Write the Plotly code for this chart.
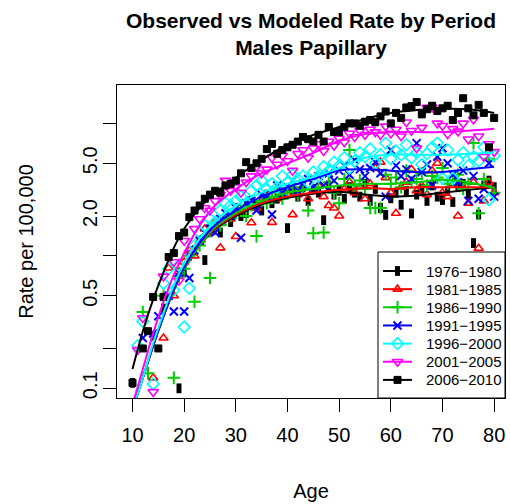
import plotly.graph_objects as go

ages = list(range(10, 81))
periods = ["1976\u22121980", "1981\u22121985", "1986\u22121990", "1991\u22121995",
           "1996\u22122000", "2001\u22122005", "2006\u22122010"]
N = None

obs_1976 = [0.11, N, N, N, 0.25, N, 0.4, N, N, 0.1,
            0.75, 1.0, 1.1, 1.3, 0.93, 1.6, 1.7, 1.5, 2.0, 1.8,
            2.3, 2.0, 2.1, 2.6, 2.4, 2.2, 2.9, 2.5, 2.7, 3.0,
            1.62, 3.1, 2.8, 3.3, 2.6, 3.2, 3.0, 1.86, 3.4, 2.9,
            3.1, 2.7, 3.3, 3.0, 2.8, 3.5, 2.6, 3.2, 2.3, 2.04,
            2.72, 3.0, 2.43, 3.1, 2.09, 2.9, 3.2, 2.6, 3.4, 2.8,
            2.64, 3.1, 2.55, 3.3, 3.5, 2.9, 1.25, 2.05, 3.4, 3.7,
            3.3]
obs_1981 = [N, N, N, N, 0.12, N, 0.24, 0.81, 0.5, 0.76,
            0.9, 1.1, 1.0, 1.3, 1.6, 1.5, 1.8, 1.15, 2.0, 1.9,
            1.4, 2.2, 2.4, 1.78, 2.3, 2.6, 2.8, 1.79, 2.7, 3.1,
            2.9, 2.05, 2.9, 3.3, 2.7, 3.1, 3.4, 2.8, 2.4, 2.3,
            2.0, 3.2, 3.6, 3.0, 3.3, 2.7, 3.5, 4.6, 5.1, 3.9,
            3.0, 2.1, 3.3, 3.6, 4.5, 3.1, 3.4, 2.9, 4.4, 5.0,
            3.0, 2.8, 3.5, 2.0, 3.3, 2.5, 3.6, 1.14, 2.6, 3.6,
            3.0]
obs_1986 = [N, N, 0.377, 0.13, N, N, 0.5, N, 0.12, 0.7,
            0.8, 1.0, 0.45, 1.2, 1.4, 0.68, 1.6, 1.7, 1.9, 2.0,
            2.1, 2.3, 2.0, 2.4, 1.41, 2.6, 2.5, 2.8, 3.0, 2.7,
            3.1, 3.3, 2.9, 3.2, 2.2, 1.48, 3.3, 1.5, 3.6, 3.0,
            2.5, 3.8, 6.3, 3.4, 3.7, 3.2, 2.3, 2.3, 2.3, 4.1,
            3.5, 3.9, 3.3, 4.4, 3.6, 3.8, 4.2, 3.4, 4.0, 3.9,
            4.6, 3.5, 3.7, 4.1, 3.2, 3.5, 7.1, 2.1, 3.8, 5.4,
            3.0]
obs_1991 = [N, N, 0.24, N, 0.26, 0.35, N, 0.5, 0.38, 0.75,
            0.38, 0.68, 1.1, 1.3, 1.5, 1.6, 1.5, 1.9, 2.1, 2.0,
            2.3, 1.37, 2.5, 2.6, 2.2, 2.9, 2.8, 2.05, 3.4, 3.0,
            3.3, 3.7, 3.1, 3.5, 3.8, 3.3, 4.0, 3.4, 4.2, 3.7,
            4.4, 4.8, 4.1, 5.3, 4.5, 4.0, 4.6, 5.1, 4.2, 2.8,
            6.3, 4.8, 4.0, 4.5, 3.8, 7.1, 4.3, 4.9, 3.4, 5.6,
            6.5, 5.0, 4.1, 3.6, 4.4, 2.6, 4.0, 2.7, 3.2, 5.0,
            2.8]
obs_1996 = [N, 0.21, 0.32, N, 0.108, N, 0.62, 0.8, 0.55, 0.85,
            0.29, 0.57, 1.2, 1.5, 1.7, 1.9, 1.8, 2.2, 2.5, 2.4,
            2.6, 2.8, 2.5, 3.1, 3.4, 3.7, 3.2, 3.5, 3.3, 4.0,
            3.6, 4.1, 3.8, 4.0, 3.6, 4.3, 4.0, 4.7, 4.4, 5.1,
            4.8, 5.5, 4.6, 5.2, 6.0, 5.6, 6.4, 5.0, 5.8, 7.1,
            5.4, 6.2, 5.8, 6.9, 5.5, 6.0, 4.9, 5.9, 6.6, 7.1,
            3.85, 6.3, 3.85, 5.3, 6.0, 4.8, 5.6, 5.2, 6.6, 2.65,
            5.7]
obs_2001 = [N, 0.195, 0.34, N, 0.094, N, 0.7, 0.5, 0.9, 0.65,
            1.3, 1.05, 1.6, 1.9, 2.3, 2.2, 2.6, 2.9, 3.7, 3.1,
            3.3, 3.0, 3.6, 4.0, 4.7, 4.2, 4.5, 5.5, 4.9, 5.7,
            5.2, 4.4, 5.9, 6.3, 5.5, 6.5, 7.0, 6.2, 7.3, 6.8,
            7.7, 7.2, 8.4, 7.9, 8.8, 8.2, 9.0, 8.6, 8.2, 9.5,
            8.4, 9.0, 8.0, 10.2, 8.8, 6.5, 9.3, 13.2, 13.2, 10.0,
            9.6, 8.3, 9.1, 8.7, 10.0, 7.6, 10.7, 8.0, 5.6, 7.0,
            6.1]
obs_2006 = [0.11, N, 0.2, 0.27, 0.49, 0.2, 0.49, 0.98, 1.05, 1.41,
            1.5, 1.96, 2.2, 2.4, 2.7, 2.9, 3.1, 3.0, 3.4, 3.5,
            3.7, 4.2, 5.1, 4.6, 5.0, 5.4, 6.4, 7.0, 5.9, 6.3,
            6.6, 6.9, 7.3, 7.9, 7.6, 7.3, 8.2, 7.3, 9.4, 8.6,
            8.6, 9.4, 10.0, 10.0, 9.6, 10.3, 10.6, 10.2, 11.3, 12.3,
            10.0, 12.0, 11.0, 13.2, 13.5, 14.5, 11.7, 12.8, 13.6, 12.4,
            13.0, 13.6, 10.6, 12.0, 15.5, 13.0, 11.5, 13.8, 12.0, 6.6,
            11.0]

fit_ages = [10, 12, 14, 16, 18, 20, 23, 26, 30, 35, 40, 45, 50, 55, 60, 65, 70, 75, 80]
fit_1976 = [0.07, 0.12, 0.21, 0.35, 0.55, 0.8, 1.2, 1.6, 2.0, 2.45, 2.75, 2.95, 3.05, 2.9, 2.8, 2.85, 3.0, 3.15, 3.3]
fit_1981 = [0.07, 0.12, 0.21, 0.35, 0.55, 0.8, 1.2, 1.62, 2.05, 2.5, 2.8, 3.0, 3.15, 3.25, 3.2, 3.3, 3.3, 3.3, 3.3]
fit_1986 = [0.07, 0.12, 0.21, 0.35, 0.55, 0.8, 1.2, 1.65, 2.1, 2.6, 3.0, 3.2, 3.4, 3.5, 3.5, 3.6, 3.75, 3.6, 3.25]
fit_1991 = [0.07, 0.12, 0.21, 0.35, 0.56, 0.82, 1.25, 1.7, 2.2, 2.8, 3.3, 3.8, 4.4, 4.5, 4.4, 4.3, 4.3, 4.5, 4.7]
fit_1996 = [0.07, 0.12, 0.22, 0.37, 0.6, 0.88, 1.35, 1.8, 2.4, 3.0, 3.5, 3.95, 4.6, 5.5, 5.8, 5.8, 5.8, 5.9, 6.0]
fit_2001 = [0.075, 0.14, 0.26, 0.45, 0.72, 1.05, 1.7, 2.4, 3.2, 4.2, 5.0, 6.0, 7.4, 8.3, 8.6, 8.6, 8.6, 8.8, 9.1]
fit_2006 = [0.14, 0.27, 0.47, 0.75, 1.15, 1.6, 2.3, 3.0, 3.9, 5.3, 6.9, 8.2, 9.4, 10.8, 12.0, 12.6, 12.9, 12.8, 12.0]

observed = [obs_1976, obs_1981, obs_1986, obs_1991, obs_1996, obs_2001, obs_2006]
fitted = [fit_1976, fit_1981, fit_1986, fit_1991, fit_1996, fit_2001, fit_2006]

colors = ["#000000", "#FF0000", "#00CD00", "#0000FF", "#00FFFF", "#FF00FF", "#000000"]
symbols = ["line-ns", "triangle-up-open", "cross-thin-open", "x-thin-open",
           "diamond-open", "triangle-down-open", "square"]
msizes = [7, 8, 9, 8, 9, 9, 7]
mwidths = [5, 1.6, 2, 2, 1.6, 1.6, 1]

FONT = "Liberation Sans, Arial, Helvetica, sans-serif"
W, H = 510, 504
ML, MR, MT, MB = 117, 5, 85, 106
PW, PH = W - ML - MR, H - MT - MB


def px_x(p):
    return (p - ML) / PW


def px_y(p):
    return (H - MB - p) / PH


fig = go.Figure()

for i in range(7):
    fig.add_trace(go.Scatter(
        x=ages, y=observed[i], mode="markers", showlegend=False, name=periods[i],
        marker=dict(symbol=symbols[i], size=msizes[i], color=colors[i],
                    line=dict(color=colors[i], width=mwidths[i]))))

for i in range(7):
    fig.add_trace(go.Scatter(
        x=fit_ages, y=fitted[i], mode="lines", showlegend=False, name=periods[i] + " model",
        line=dict(color=colors[i], width=2, shape="spline")))

# manual legend (box, line samples, glyphs, labels)
shapes = [dict(type="rect", xref="paper", yref="paper", layer="below",
               x0=px_x(378), x1=1.0, y0=0.0, y1=px_y(252),
               line=dict(color="black", width=1), fillcolor="white")]
annotations = []
leg_y = [px_y(271 + 18.15 * k) for k in range(7)]
for i in range(7):
    shapes.append(dict(type="line", xref="paper", yref="paper", layer="above",
                       x0=px_x(383), x1=px_x(412), y0=leg_y[i], y1=leg_y[i],
                       line=dict(color=colors[i], width=2)))
    annotations.append(dict(text=periods[i], xref="paper", yref="paper",
                            x=px_x(424), y=leg_y[i], xanchor="left", yanchor="middle",
                            showarrow=False, font=dict(size=15, family=FONT, color="black")))
    fig.add_trace(go.Scatter(
        x=[px_x(397.5)], y=[leg_y[i]], xaxis="x2", yaxis="y2", mode="markers",
        showlegend=False, hoverinfo="skip",
        marker=dict(symbol=symbols[i], size=msizes[i], color=colors[i],
                    line=dict(color=colors[i], width=mwidths[i]))))

fig.update_layout(
    width=W, height=H,
    margin=dict(l=ML, r=MR, t=MT, b=MB),
    paper_bgcolor="white", plot_bgcolor="white",
    font=dict(family=FONT, color="black", size=20),
    title=dict(text="<b>Observed vs Modeled Rate by Period<br>Males Papillary</b>",
               x=0.5, xref="paper", xanchor="center",
               y=1 - 28 / 504, yref="container", yanchor="middle",
               font=dict(size=21, family=FONT, color="black")),
    showlegend=False,
    shapes=shapes,
    annotations=annotations,
    xaxis2=dict(overlaying="x", range=[0, 1], visible=False, fixedrange=True),
    yaxis2=dict(overlaying="y", range=[0, 1], visible=False, fixedrange=True),
)
fig.layout.xaxis.update(range=[7.0, 82.1], tickvals=[10, 20, 30, 40, 50, 60, 70, 80],
                        ticks="outside", ticklen=13, tickwidth=1, tickcolor="black",
                        showline=True, linecolor="black", linewidth=1, mirror=True,
                        showgrid=False, zeroline=False, ticklabelstandoff=6,
                        title=dict(text="Age", standoff=38, font=dict(size=20)))
fig.layout.yaxis.update(type="log", range=[-1.073, 1.290],
                        tickvals=[0.1, 0.2, 0.5, 1, 2, 5, 10],
                        ticktext=["0.1", "", "0.5", "", "2.0", "5.0", ""],
                        tickangle=-90,
                        ticks="outside", ticklen=13, tickwidth=1, tickcolor="black",
                        showline=True, linecolor="black", linewidth=1, mirror=True,
                        showgrid=False, zeroline=False, ticklabelstandoff=-2,
                        title=dict(text="Rate per 100,000", standoff=40, font=dict(size=20)))

fig.write_html("out.html", config={"displayModeBar": False},
               post_script="document.body.style.margin='0';")
